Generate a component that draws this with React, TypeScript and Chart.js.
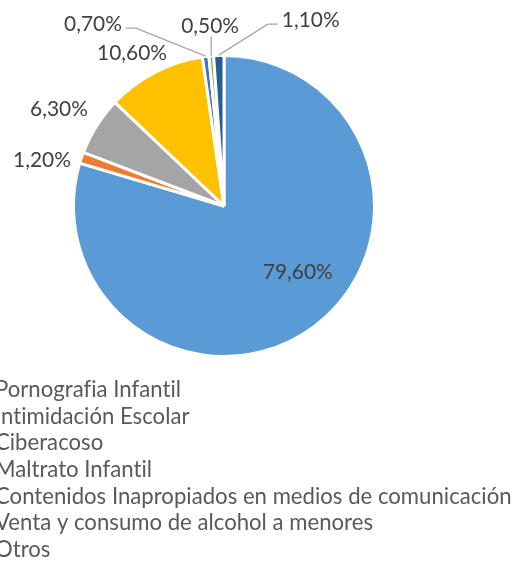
import React, { useEffect, useRef } from "react";
import { Chart, registerables } from "chart.js";

Chart.register(...registerables);

const categories = [
  "Pornografia Infantil",
  "Intimidación Escolar",
  "Ciberacoso",
  "Maltrato Infantil",
  "Contenidos Inapropiados en medios de comunicación",
  "Venta y consumo de alcohol a menores",
  "Otros",
];
const values = [79.6, 1.2, 6.3, 10.6, 0.7, 0.5, 1.1];
const valueLabels = ["79,60%", "1,20%", "6,30%", "10,60%", "0,70%", "0,50%", "1,10%"];
const colors = ["#5B9BD5", "#ED7D31", "#A5A5A5", "#FFC000", "#4472C4", "#70AD47", "#255E91"];

const FONT = "Lato";
const BORDER = 3;

// label placement in polar form relative to the pie (deg clockwise from 12 o'clock, radius factor)
const LABEL_LAYOUT = [
  { a: 131.7, f: 0.664, leader: false },
  { a: 284.2, f: 1.26, leader: false },
  { a: 300.5, f: 1.285, leader: false },
  { a: 329, f: 1.198, leader: false },
  { a: 324.4, f: 1.51, leader: true },
  { a: 355.6, f: 1.218, leader: true },
  { a: 24.9, f: 1.383, leader: true },
];

const labelPlugin = {
  id: "excelLabels",
  afterDatasetsDraw(chart: any) {
    const ctx: any = chart.ctx;
    const meta = chart.getDatasetMeta(0);
    if (!meta.data.length) return;
    const first: any = meta.data[0];
    const cx = first.x;
    const cy = first.y;
    const r = first.outerRadius - BORDER / 2;

    ctx.save();
    try {
      ctx.letterSpacing = "0.01px";
    } catch (e) {}
    // fit label font so "79,60%" is ~70px wide
    ctx.font = `20px ${FONT}`;
    const w20 = ctx.measureText("79,60%").width;
    const lsize = (20 * 70) / w20;
    ctx.font = `${lsize}px ${FONT}`;
    const dh = ctx.measureText("0").actualBoundingBoxAscent;
    ctx.textAlign = "center";
    ctx.textBaseline = "alphabetic";

    meta.data.forEach((arc: any, i: number) => {
      const lay = LABEL_LAYOUT[i];
      const th = ((lay.a - 90) * Math.PI) / 180;
      const lx = cx + Math.cos(th) * r * lay.f;
      const ly = cy + Math.sin(th) * r * lay.f;
      const text = valueLabels[i];
      const tw = ctx.measureText(text).width;
      if (lay.leader) {
        const mid = (arc.startAngle + arc.endAngle) / 2;
        const ax = cx + Math.cos(mid) * (r + 2);
        const ay = cy + Math.sin(mid) * (r + 2);
        ctx.strokeStyle = "#A6A6A6";
        ctx.lineWidth = 1.3;
        ctx.beginPath();
        if (Math.abs(lx - ax) > tw / 2) {
          const s = lx < ax ? 1 : -1;
          const sx = lx + s * (tw / 2 + 4);
          const sy = ly + 5;
          ctx.moveTo(sx, sy);
          ctx.lineTo(sx + s * 10, sy);
          ctx.lineTo(ax, ay);
        } else {
          ctx.moveTo(ax, ly + dh / 2 + 4);
          ctx.lineTo(ax, ay);
        }
        ctx.stroke();
      }
      ctx.fillStyle = "#404040";
      ctx.fillText(text, lx, ly + dh / 2);
    });

    // legend (markers fall outside the visible area, like the reference)
    ctx.font = `20px ${FONT}`;
    const longest = Math.max(...categories.map((c) => ctx.measureText(c).width));
    const gsize = (20 * 517) / longest;
    ctx.font = `${gsize}px ${FONT}`;
    ctx.textAlign = "left";
    ctx.fillStyle = "#595959";
    const baseY = 397;
    const step = 26.67;
    categories.forEach((c, i) => {
      ctx.fillText(c, -5, baseY + i * step);
      ctx.save();
      ctx.fillStyle = colors[i];
      ctx.fillRect(-18, baseY + i * step - 10, 8, 8);
      ctx.restore();
    });
    ctx.restore();
  },
};

export default function App() {
  const ref = useRef<HTMLCanvasElement | null>(null);
  useEffect(() => {
    if (!ref.current) return;
    const chart = new Chart(ref.current, {
      type: "pie",
      data: {
        labels: categories,
        datasets: [
          {
            data: values,
            backgroundColor: colors,
            borderColor: "#FFFFFF",
            borderWidth: BORDER,
            hoverBorderWidth: BORDER,
            hoverOffset: 0,
          },
        ],
      },
      options: {
        animation: false,
        responsive: true,
        maintainAspectRatio: false,
        events: [],
        layout: { padding: { left: 72, top: 54, right: 138, bottom: 207 } },
        plugins: {
          legend: { display: false },
          tooltip: { enabled: false },
          title: { display: false },
        },
      },
      plugins: [labelPlugin],
    });
    return () => chart.destroy();
  }, []);
  return (
    <div style={{ position: "absolute", left: 0, top: 0, width: 514, height: 565, background: "#fff" }}>
      <canvas ref={ref} />
    </div>
  );
}
